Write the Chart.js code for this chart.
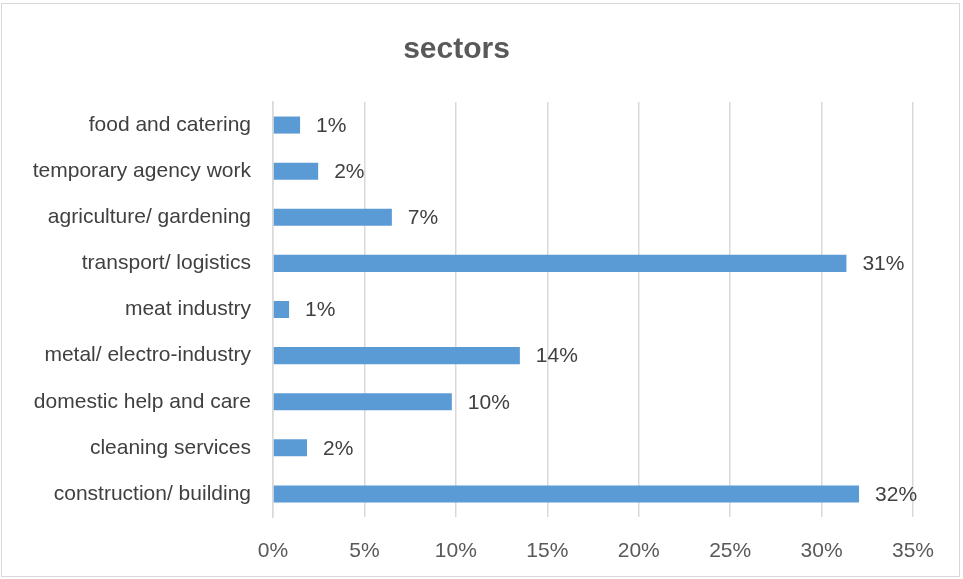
<!DOCTYPE html>
<html>
<head>
<meta charset="utf-8">
<script src="https://cdn.jsdelivr.net/npm/chart.js@4"></script>
<style>
  html, body { margin: 0; padding: 0; background: #fff; }
  #wrap { width: 963px; height: 579px; position: relative; }
</style>
</head>
<body>
<div id="wrap"><canvas id="chart" width="963" height="579"></canvas></div>
<script>
// Categories, top to bottom as in the picture
const sectors = [
  "food and catering",
  "temporary agency work",
  "agriculture/ gardening",
  "transport/ logistics",
  "meat industry",
  "metal/ electro-industry",
  "domestic help and care",
  "cleaning services",
  "construction/ building",
];
// Share of each sector (%)
const shares = [1.48, 2.47, 6.5, 31.36, 0.88, 13.5, 9.78, 1.86, 32.05];
// Labels printed next to each bar
const shareLabels = ["1%", "2%", "7%", "31%", "1%", "14%", "10%", "2%", "32%"];
// X axis ticks
const xTicks = [0, 5, 10, 15, 20, 25, 30, 35];

const FONT = "'Liberation Sans', Arial, sans-serif";

// Writes the percentage label to the right of each bar
const barLabels = {
  id: "barLabels",
  afterDatasetsDraw(chart) {
    const ctx = chart.ctx;
    const meta = chart.getDatasetMeta(0);
    ctx.save();
    ctx.font = "21px " + FONT;
    ctx.fillStyle = "#404040";
    ctx.textAlign = "left";
    ctx.textBaseline = "middle";
    meta.data.forEach((bar, i) => {
      ctx.fillText(shareLabels[i], bar.x + 16, bar.y + 1);
    });
    ctx.restore();
  },
};

// Thin grey frame round the whole chart
const frame = {
  id: "frame",
  beforeDraw(chart) {
    const ctx = chart.ctx;
    ctx.save();
    ctx.strokeStyle = "#d9d9d9";
    ctx.lineWidth = 1;
    ctx.strokeRect(1.5, 3.5, 958, 573);
    ctx.restore();
  },
};

const ctx = document.getElementById("chart").getContext("2d");
new Chart(ctx, {
  type: "bar",
  data: {
    labels: sectors,
    datasets: [
      {
        data: shares,
        backgroundColor: "#5b9bd5",
        borderWidth: 0,
        barPercentage: 0.37,
        categoryPercentage: 1,
      },
    ],
  },
  options: {
    indexAxis: "y",
    responsive: false,
    animation: false,
    layout: { padding: { left: 0, right: 50, top: 0, bottom: 0 } },
    plugins: {
      legend: { display: false },
      tooltip: { enabled: false },
      title: {
        display: true,
        text: "sectors",
        color: "#595959",
        font: { family: FONT, size: 30, weight: "bold" },
        padding: { top: 32, bottom: 34 },
      },
    },
    scales: {
      x: {
        min: 0,
        max: 35,
        afterBuildTicks(axis) {
          axis.ticks = xTicks.map((v) => ({ value: v }));
        },
        afterFit(axis) {
          axis.height = 62;
        },
        ticks: {
          color: "#595959",
          font: { family: FONT, size: 21 },
          padding: 22,
          callback: (v) => v + "%",
        },
        grid: { color: "#d9d9d9", lineWidth: 1.5, drawTicks: false },
        border: { display: false },
      },
      y: {
        afterFit(axis) {
          axis.width = 273;
        },
        ticks: {
          color: "#404040",
          font: { family: FONT, size: 21 },
          padding: 22,
        },
        grid: { display: false, drawTicks: false },
        border: { display: true, color: "#d9d9d9", width: 1.5 },
      },
    },
  },
  plugins: [frame, barLabels],
});
</script>
</body>
</html>
